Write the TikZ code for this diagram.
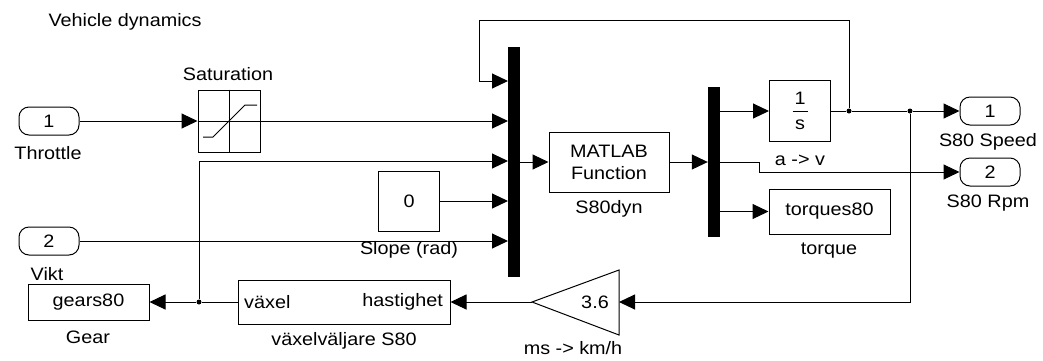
\documentclass[tikz,border=0pt]{standalone}
\usepackage{fontspec}
\setmainfont[FakeStretch=1.1]{Liberation Sans}
\usetikzlibrary{arrows.meta}
\begin{document}
\begin{tikzpicture}[x=1pt,y=-1pt,
  every node/.style={font=\fontsize{18}{20}\selectfont, inner sep=0pt},
  blk/.style={draw, line width=1pt, fill=white},
  port/.style={draw, line width=1pt, rounded corners=10pt, minimum width=60pt, minimum height=28pt},
  bar/.style={fill=black, draw=none},
  sig/.style={line width=1pt, -{Triangle[length=16pt,width=15pt]}},
  wire/.style={line width=1pt},
  dot/.style={circle, fill=black, minimum size=5pt, inner sep=0pt}]
\useasboundingbox (0,0) rectangle (1043,360);
% title
\node (title) at (125,22) {Vehicle dynamics};
% inports
\node[port] (in1) at (49,121) {1};
\node (in1l) at (48,153) {Throttle};
\node[port] (in2) at (49,241) {2};
\node (in2l) at (47,274) {Vikt};
% saturation
\node[blk, minimum width=62pt, minimum height=62pt] (sat) at (229,121) {};
\node (satl) at (228,74) {Saturation};
\draw[line width=1pt] (sat.north) -- (sat.south) (sat.west) -- (sat.east);
\draw[line width=1pt] (203,137) -- (213,137) -- (245,105) -- (257,105);
% mux
\node[bar, minimum width=12pt, minimum height=230pt] (mux) at (514,162) {};
\coordinate (m1) at (508,81);
\coordinate (m2) at (508,121);
\coordinate (m3) at (508,161);
\coordinate (m4) at (508,201);
\coordinate (m5) at (508,241);
% constant
\node[blk, minimum width=61pt, minimum height=60pt] (const) at (409,201) {0};
\node (constl) at (409,250) {Slope (rad)};
% matlab function
\node[blk, minimum width=120pt, minimum height=60pt, align=center] (fcn) at (609,162) {MATLAB\\[2pt]Function};
\node (fcnl) at (609,209) {S80dyn};
% demux
\node[bar, minimum width=12pt, minimum height=150pt] (demux) at (714,162) {};
\coordinate (d1) at (720,111);
\coordinate (d2) at (720,162);
\coordinate (d3) at (720,211.5);
\coordinate (rb) at (759,172);
% integrator
\node[blk, minimum width=61pt, minimum height=61pt] (integ) at (800,111) {};
\node (one) at (800,98) {1};
\node (ess) at (800,125) {s};
\draw[line width=1pt] (792.5,111.5) -- (807.5,111.5);
\node (integl) at (800,160) {a -> v};
% torques
\node[blk, minimum width=121pt, minimum height=45pt] (torq) at (829.5,211.5) {torques80};
\node (torql) at (829,251) {torque};
% outports
\node[port] (out1) at (990,111) {1};
\node (out1l) at (988,142) {S80 Speed};
\node[port] (out2) at (990,172) {2};
\node (out2l) at (988,203) {S80 Rpm};
% gain
\coordinate (gR) at (619,302);
\coordinate (gL) at (532,302);
\draw[line width=1pt] (619,270) -- (gL) -- (619,335) -- cycle;
\node (gtxt) at (595,302) {3.6};
\node (gainl) at (573,348) {ms -> km/h};
% gear selector
\node[blk, minimum width=212pt, minimum height=44pt] (sel) at (344,302) {};
\node[anchor=west] (selin) at (244,302) {växel};
\node[anchor=east] (selout) at (443,302) {hastighet};
\node (sell) at (344,341) {växelväljare S80};
% gears out
\node[blk, minimum width=121pt, minimum height=36pt] (gear) at (88.5,302) {gears80};
\node (gearl) at (88,337) {Gear};
% junctions
\node[dot] (jA) at (849,111) {};
\node[dot] (jB) at (910,111) {};
\node[dot] (jC) at (199,302) {};
\coordinate (fb) at (479,20);
% wires
\draw[sig] (in1.east) -- (sat.west);
\draw[sig] (sat.east) -- (m2);
\draw[sig] (jC) |- (m3);
\draw[sig] (const.east) -- (m4);
\draw[sig] (in2.east) -- (m5);
\draw[sig] (jA) |- (fb) |- (m1);
\draw[sig] (mux.east) -- (fcn.west);
\draw[sig] (fcn.east) -- (demux.west);
\draw[sig] (d1) -- (integ.west);
\draw[sig] (d2) -| (rb) -- (out2.west);
\draw[sig] (d3) -- (torq.west);
\draw[wire] (integ.east) -- (jA) -- (jB);
\draw[sig] (jB) -- (out1.west);
\draw[sig] (jB) |- (gR);
\draw[sig] (gL) -- (sel.east);
\draw[sig] (sel.west) -- (jC) -- (gear.east);
\end{tikzpicture}
\end{document}
